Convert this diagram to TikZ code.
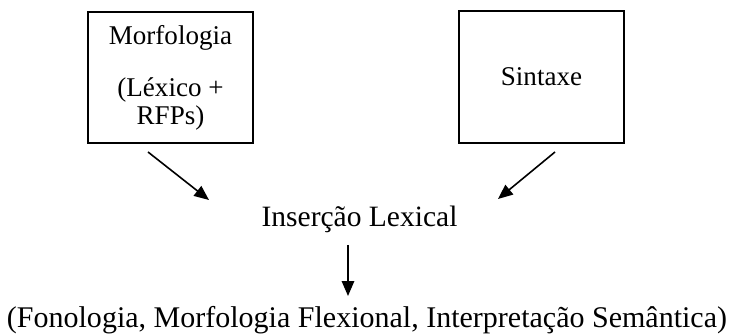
\documentclass[tikz,border=0pt]{standalone}
\usepackage{fontspec}
\setmainfont{Liberation Serif}
\usetikzlibrary{arrows.meta}

\begin{document}
\begin{tikzpicture}[x=0.4065pt,y=-0.4065pt]
\useasboundingbox (0,0) rectangle (729,334);
\begin{scope}[every node/.style={rectangle,draw,line width=0.8pt,minimum width=67.1pt,minimum height=53.3pt,inner sep=0pt,align=center,font=\fontsize{11}{11.4}\selectfont}]
    \node (morf) at (170.5,77.5) {Morfologia\\[9.8pt](Léxico +\\RFPs)};
    \node (sint) at (541.5,77) {Sintaxe};
\end{scope}

\node[anchor=base,font=\fontsize{12}{14}\selectfont] (ins) at (359.5,227) {Inserção Lexical};
\node[anchor=base,font=\fontsize{12.2}{14}\selectfont] (res) at (367,328) {(Fonologia, Morfologia Flexional, Interpretação Semântica)};

\coordinate (m1) at (148,152);
\coordinate (m2) at (209,200);
\coordinate (s1) at (555,152);
\coordinate (s2) at (498,199);
\coordinate (i1) at (348,245);
\coordinate (i2) at (348,296);

\begin{scope}[>={Triangle[length=6pt,width=5pt]},
              every edge/.style={draw,line width=0.65pt}]
    \path [->] (m1) edge (m2);
    \path [->] (s1) edge (s2);
    \path [->] (i1) edge (i2);
\end{scope}
\end{tikzpicture}
\end{document}
